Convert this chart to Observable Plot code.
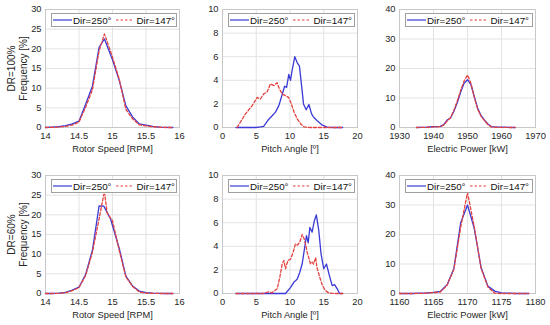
<!DOCTYPE html>
<html><head><meta charset="utf-8">
<script src="https://cdn.jsdelivr.net/npm/d3@7"></script>
<script src="https://cdn.jsdelivr.net/npm/@observablehq/plot@0.6"></script>
<style>
body{margin:0;background:#fff;}
#wrap{position:relative;width:550px;height:325px;overflow:hidden;background:#fff;font-family:"Liberation Sans",Arial,sans-serif;}
.p{position:absolute;}
.leg{position:absolute;height:14px;border:1px solid #a0a0a0;background:#fff;font-size:9.8px;color:#111;display:flex;align-items:center;box-sizing:border-box;white-space:nowrap;}
.leg svg{display:block;}
</style>
</head><body>
<div id="wrap"></div>
<script>
// ---- tick labels / axes
const rowLabels = ["DR=100%", "DR=60%"];
const yLabel = "Frequency [%]";
const xLabels = ["Rotor Speed [RPM]", "Pitch Angle [º]", "Electric Power [kW]"];
const seriesNames = ["Dir=250°", "Dir=147°"];
const rpmTicks = [14, 14.5, 15, 15.5, 16];
const pitchTicks = [0, 5, 10, 15, 20];
const power100Ticks = [1930, 1940, 1950, 1960, 1970];
const power60Ticks = [1160, 1165, 1170, 1175, 1180];
const rpmYTicks = [0, 5, 10, 15, 20, 25, 30];
const pitchYTicks = [0, 2, 4, 6, 8, 10];
const powerYTicks = [0, 10, 20, 30, 40];

// ---- Rotor speed, DR=100%
const rpm100X = [14.0,14.1,14.2,14.3,14.4,14.5,14.6,14.7,14.8,14.88,15.0,15.1,15.2,15.3,15.4,15.5,15.6,15.7,15.8,15.9];
const rpm100Dir250 = [0,0.1,0.2,0.5,0.9,1.6,6.0,10.5,20.4,22.5,17.2,12.0,5.5,2.7,0.9,0.6,0.3,0.1,0.05,0];
const rpm100Dir147 = [0,0.05,0.1,0.3,0.6,1.4,5.2,9.6,19.5,23.8,17.9,12.3,4.6,2.2,0.7,0.4,0.2,0.1,0,0];
// ---- Rotor speed, DR=60%
const rpm60X250 = [14.0,14.1,14.2,14.3,14.4,14.5,14.6,14.7,14.8,14.87,14.97,15.1,15.2,15.3,15.4,15.5,15.6,15.7,15.8,15.9];
const rpm60Dir250 = [0,0,0.1,0.3,0.85,1.6,4.9,11.0,22.3,22.2,19.0,11.5,4.4,1.9,0.6,0.2,0.1,0.05,0,0];
const rpm60X147 = [14.0,14.1,14.2,14.3,14.4,14.5,14.6,14.7,14.8,14.87,14.885,14.92,15.0,15.1,15.2,15.3,15.4,15.5,15.6,15.7,15.8,15.9];
const rpm60Dir147 = [0,0,0.05,0.2,0.7,1.5,4.6,10.5,19.0,25.2,25.2,20.5,18.5,11.0,4.2,1.8,0.4,0.1,0.05,0,0,0];

// ---- Pitch angle, DR=100%
const pitch100X250 = [2,3,4,5,5.6,6.1,6.86,7.36,7.85,8.35,8.84,9.2,9.5,9.82,10.07,10.3,10.71,11.06,11.4,11.8,12.0,12.4,12.8,13.2,13.5,14.0,14.8,15.5,16.5,17.8];
const pitch100Dir250 = [0,0,0,0,0.05,0.1,0.7,1.0,1.3,1.85,2.8,3.5,3.4,4.5,4.0,4.8,6.0,5.5,5.2,3.1,2.0,1.5,1.95,1.15,0.87,0.6,0.2,0.03,0,0];
const pitch100X147 = [2.17,3.4,4.4,5.14,5.6,6.1,6.6,7.1,7.6,8.1,8.4,8.84,9.3,9.8,10.2,10.6,11.1,11.6,12.1,13,14,15,16,17.8];
const pitch100Dir147 = [0,1.15,1.85,2.55,2.4,2.85,3.0,3.7,3.55,3.8,3.3,2.85,2.7,2.55,2.0,1.3,0.7,0.3,0.05,0,0,0,0,0];
// ---- Pitch angle, DR=60%
const pitch60X250 = [2,4,6,8,9.33,10.07,10.56,11.06,11.45,11.8,12.15,12.44,12.7,12.94,13.28,13.6,13.9,14.27,14.6,15.0,15.4,15.85,16.25,16.6,17.0,17.33,17.8];
const pitch60Dir250 = [0,0,0,0,0,0.5,0.95,1.2,1.8,2.5,3.8,4.9,4.3,5.6,5.2,6.15,6.66,5.3,3.35,2.1,2.5,1.5,0.67,0.75,0.4,0,0];
const pitch60X147 = [2,4,6,6.9,7.3,8.1,8.5,8.84,9.1,9.33,9.7,10.07,10.47,10.8,11.1,11.45,11.8,12.05,12.3,12.54,12.8,13.04,13.3,13.5,13.8,14.0,14.4,14.8,15.26,15.75,16.5,17.8];
const pitch60Dir147 = [0,0,0,0.15,0.05,0.4,1.4,2.5,2.8,2.1,2.8,2.9,3.5,4.2,4.1,4.35,5.0,4.7,4.2,3.5,3.0,2.5,2.65,2.5,3.05,2.2,1.4,0.67,0.25,0.05,0,0];

// ---- Electric power, DR=100%
const power100X = [1935,1938,1940,1942,1943,1944,1945,1946,1947,1948,1949,1950,1951,1952,1953,1954,1955,1956,1957,1958,1960,1962,1964];
const power100Dir250 = [0,0.1,0.3,0.4,1.0,2.5,3.2,5.5,8.5,12.0,15.0,16.2,14.5,10.5,6.5,4.0,2.5,1.2,0.3,0.2,0.1,0.05,0];
const power100Dir147 = [0,0.05,0.2,0.3,0.8,2.2,3.3,5.8,9.0,12.6,15.8,17.8,15.0,10.2,6.2,3.8,2.3,1.0,0.2,0.1,0.05,0,0];
// ---- Electric power, DR=60%
const power60X = [1160,1162,1164,1165,1166,1167,1168,1169,1170,1171,1172,1173,1174,1175,1176,1177,1179];
const power60Dir250 = [0,0,0.2,0.4,0.7,3.0,8.5,24.0,30.0,22.0,8.8,2.5,0.8,0.2,0.1,0,0];
const power60Dir147 = [0,0,0.1,0.3,0.5,2.8,8.2,22.5,34.2,22.5,8.5,2.2,0.1,0,0,0,0];

const BLUE = "#3a3ad6", RED = "#e4413f";
const pairs = (xs, ys) => xs.map((x, i) => ({x, y: ys[i]}));

const panels = [
  {row:0, left:0,   ml:45, mr:6,  xd:[14,16], xt:rpmTicks, yd:[0,30], yt:rpmYTicks, xl:xLabels[0], a:pairs(rpm100X, rpm100Dir250), b:pairs(rpm100X, rpm100Dir147), ylab:true},
  {row:0, left:185, ml:37, mr:13, xd:[0,20], xt:pitchTicks, yd:[0,10], yt:pitchYTicks, xl:xLabels[1], a:pairs(pitch100X250, pitch100Dir250), b:pairs(pitch100X147, pitch100Dir147)},
  {row:0, left:365, ml:34, mr:15, xd:[1930,1970], xt:power100Ticks, yd:[0,40], yt:powerYTicks, xl:xLabels[2], a:pairs(power100X, power100Dir250), b:pairs(power100X, power100Dir147)},
  {row:1, left:0,   ml:45, mr:6,  xd:[14,16], xt:rpmTicks, yd:[0,30], yt:rpmYTicks, xl:xLabels[0], a:pairs(rpm60X250, rpm60Dir250), b:pairs(rpm60X147, rpm60Dir147), ylab:true},
  {row:1, left:185, ml:37, mr:13, xd:[0,20], xt:pitchTicks, yd:[0,10], yt:pitchYTicks, xl:xLabels[1], a:pairs(pitch60X250, pitch60Dir250), b:pairs(pitch60X147, pitch60Dir147)},
  {row:1, left:365, ml:34, mr:15, xd:[1160,1180], xt:power60Ticks, yd:[0,40], yt:powerYTicks, xl:xLabels[2], a:pairs(power60X, power60Dir250), b:pairs(power60X, power60Dir147)}
];

const wrap = document.getElementById("wrap");
const W = 185;
for (const p of panels) {
  const top = p.row === 0 ? 0 : 163;
  const mt = p.row === 0 ? 9 : 12;
  const mb = p.row === 0 ? 35 : 32;
  const H = 162;
  const marks = [
    Plot.gridX(p.xt, {stroke:"#e3e3e3", strokeOpacity:1}),
    Plot.gridY(p.yt, {stroke:"#e3e3e3", strokeOpacity:1}),
    Plot.frame({stroke:"#c8c8c8"}),
    Plot.line(p.a, {x:"x", y:"y", stroke:BLUE, strokeWidth:1.3}),
    Plot.line(p.b, {x:"x", y:"y", stroke:RED, strokeWidth:1.3, strokeDasharray:"3,2"}),
    Plot.axisX(p.xt, {tickSize:0, tickPadding:5, fontSize:9.3, fill:"#262626", label:p.xl, labelAnchor:"center", labelArrow:"none", labelOffset:24, tickFormat: d => String(d)}),
    Plot.axisY(p.yt, {tickSize:0, tickPadding:4, fontSize:9.3, fill:"#262626", label:null, tickFormat: d => String(d)})
  ];
  if (p.ylab) {
    marks.push(Plot.text([yLabel], {text: d => d, frameAnchor:"left", textAnchor:"middle", rotate:-90, dx:-22, fontSize:10, fill:"#262626"}));
    marks.push(Plot.text([rowLabels[p.row]], {text: d => d, frameAnchor:"left", textAnchor:"middle", rotate:-90, dx:-34, fontSize:10, fill:"#262626"}));
  }
  const chart = Plot.plot({
    width: W, height: H,
    marginLeft: p.ml, marginRight: p.mr, marginTop: mt, marginBottom: mb,
    style: {fontFamily: '"Liberation Sans", Arial, sans-serif', fontSize: "9.5px", background: "transparent", overflow: "visible"},
    x: {domain: p.xd},
    y: {domain: p.yd},
    marks
  });
  chart.classList.add("p");
  chart.style.left = p.left + "px";
  chart.style.top = top + "px";
  wrap.appendChild(chart);

  // legend box
  const plotW = W - p.ml - p.mr;
  const leg = document.createElement("div");
  leg.className = "leg";
  leg.style.left = (p.left + p.ml + 6) + "px";
  leg.style.top = (top + mt + 4) + "px";
  leg.style.width = (plotW - 8) + "px";
  leg.innerHTML =
    `<svg width="19" height="6" style="margin:0 1px 0 1px"><line x1="0" y1="3" x2="19" y2="3" stroke="${BLUE}" stroke-width="1.2"/></svg><span>${seriesNames[0]}</span>` +
    `<svg width="18" height="6" style="margin:0 3px 0 4px"><line x1="0" y1="3" x2="18" y2="3" stroke="${RED}" stroke-width="1.2" stroke-dasharray="2.5,2"/></svg><span>${seriesNames[1]}</span>`;
  wrap.appendChild(leg);
}
</script>
</body></html>
